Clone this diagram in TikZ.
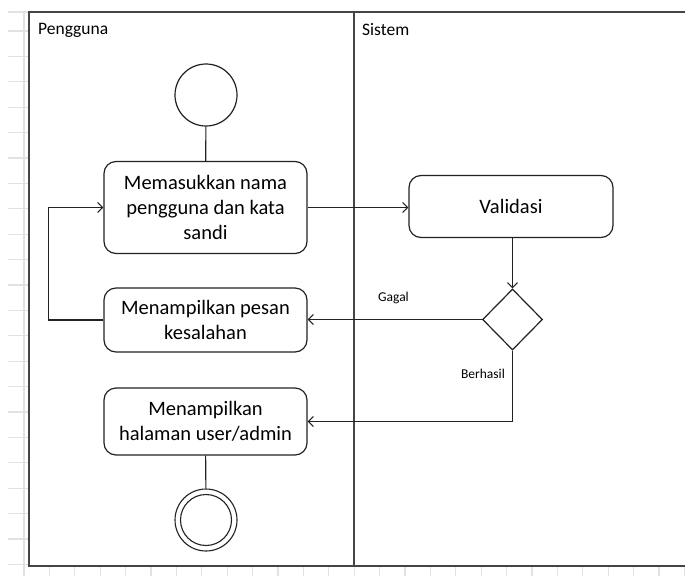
\documentclass[tikz,border=0pt]{standalone}
\usepackage{fontspec}
\setmainfont{Carlito}
\usetikzlibrary{arrows.meta,shapes.geometric}
\definecolor{gridgray}{HTML}{E2E2E2}
\definecolor{framegray}{HTML}{454545}
\definecolor{ink}{HTML}{222222}
\tikzset{
  x=1pt, y=-1pt,
  gridline/.style={draw=gridgray, line width=1.3pt},
  frameline/.style={draw=framegray, line width=1.5pt},
  actbox/.style={draw=ink, line width=1.2pt, rounded corners=12pt, align=center,
    inner sep=0pt, font=\fontsize{20.5}{25}\selectfont},
  initnode/.style={circle, draw=ink, line width=1.2pt, minimum size=62pt, inner sep=0pt},
  finalnode/.style={circle, draw=ink, line width=1.1pt, minimum size=62pt, inner sep=0pt},
  decision/.style={diamond, draw=ink, line width=1.2pt, minimum width=60pt,
    minimum height=61pt, inner sep=0pt},
  flow/.style={draw=ink, line width=1.1pt},
  arr/.style={flow, -{Straight Barb[length=5pt,width=10pt]}},
  lanelabel/.style={anchor=west, font=\fontsize{17.5}{20}\selectfont, inner sep=0pt},
  guard/.style={font=\fontsize{13.5}{16}\selectfont, inner sep=0pt}
}
\begin{document}
\begin{tikzpicture}
\useasboundingbox (0,0) rectangle (685,576);
\fill[white] (0,0) rectangle (685,576);

% ruler ticks of the drawing page
\draw[gridline] (24,12) -- (24,576);
\draw[gridline] (8,12) -- (29,12);
\foreach \k in {0,...,21} \draw[gridline] (8,31+25.4*\k) -- (29,31+25.4*\k);
\foreach \k in {0,...,26} \draw[gridline] (24+25.4*\k,566) -- (24+25.4*\k,576);

% swimlanes
\draw[frameline] (686,12) -- (29,12) -- (29,566) -- (686,566);
\draw[frameline] (354,12) -- (354,566);
\node[lanelabel] (lane1) at (38,30) {Pengguna};
\node[lanelabel] (lane2) at (362,30) {Sistem};

% activities
\node[initnode] (start) at (206,95) {};
\node[actbox, minimum width=203pt, minimum height=92pt] (input) at (205.5,207.5)
  {Memasukkan nama\\pengguna dan kata\\sandi};
\node[actbox, minimum width=204pt, minimum height=62pt] (valid) at (511,206.5) {Validasi};
\node[decision] (check) at (512.5,319.5) {};
\node[actbox, minimum width=203pt, minimum height=64pt] (error) at (205.5,320)
  {Menampilkan pesan\\kesalahan};
\node[actbox, minimum width=203pt, minimum height=67pt] (home) at (205.5,421.5)
  {Menampilkan\\halaman user/admin};
\node[finalnode] (stop) at (206,520) {};
\draw[ink, line width=1.1pt] (stop.center) circle (25.5pt);

% control flows
\draw[flow] (start) -- (input);
\draw[arr] (input.east) -- (input.east -| valid.west);
\draw[arr] (valid.south -| check.north) -- (check.north);
\draw[arr] (check.west) -- (check.west -| error.east);
\draw[arr] (check.south) |- (home.east);
\coordinate (loop) at (48.5,320);
\draw[arr] (error.west) -- (loop) |- (input.west);
\draw[flow] (home) -- (stop);

% guards
\node[guard] (g1) at (393.5,298) {Gagal};
\node[guard] (g2) at (483,374) {Berhasil};
\end{tikzpicture}
\end{document}
